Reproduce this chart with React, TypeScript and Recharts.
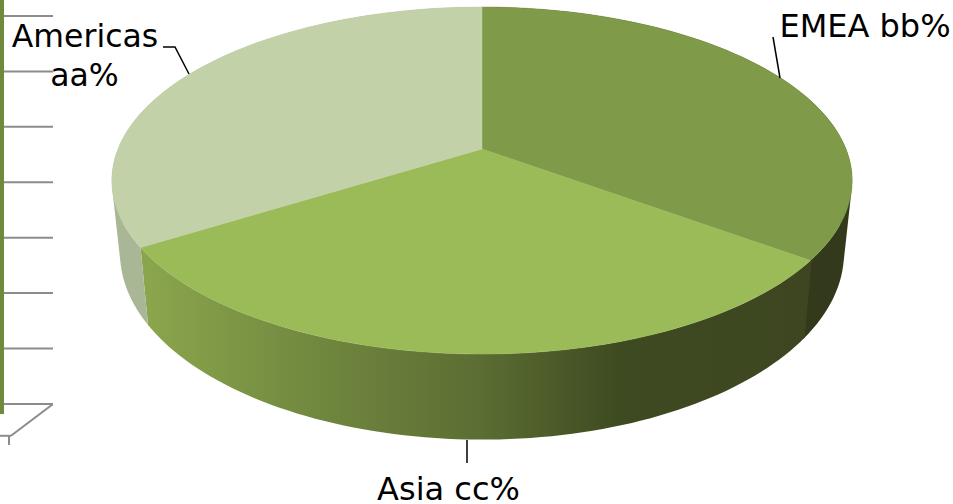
import { ComposedChart, Bar, CartesianGrid, XAxis, YAxis, ReferenceLine, PieChart, Pie, Cell } from 'recharts';

const categories = ['EMEA', 'Asia', 'Americas'];
const shares = [35.1, 31.0, 33.9];
const labelLines = [['EMEA bb%'], ['Asia cc%'], ['Americas', 'aa%']];

// what is left of the neighbouring bar chart at the picture's left edge
const wallLevels = [0, 1, 2, 3, 4, 5, 6, 7];
const wallBar = [{ x: 1, range: [-0.18, 7.288] }];

const topColors = ['#7f9a48', '#9bbb59', '#c3d1a9'];
const sideColors = ['#33391b', 'url(#asiaSide)', '#a9b796'];

const pieData = categories.map((name, i) => ({ name, value: shares[i] }));

const WIDTH = 953;
const HEIGHT = 504;
const RX = 364;
const TILT = 0.461;
const DEPTH = 0.1924;
const PERSPECTIVE = 0.1816;
const BOTTOM_SCALE = 0.978;

const rad = (deg: number) => (deg * Math.PI) / 180;

function topPoint(cx: number, cy: number, r: number, angle: number) {
  const w = 1 + PERSPECTIVE * Math.sin(rad(angle));
  return [cx + (r * Math.cos(rad(angle))) / w, cy - (r * TILT * Math.sin(rad(angle))) / w];
}

function bottomPoint(cx: number, cy: number, r: number, angle: number) {
  const w = 1 + PERSPECTIVE * Math.sin(rad(angle));
  return [
    cx + (BOTTOM_SCALE * r * Math.cos(rad(angle))) / w,
    cy - (r * TILT * Math.sin(rad(angle))) / w + (r * DEPTH) / w,
  ];
}

function topArc(cx: number, cy: number, r: number, from: number, to: number) {
  const steps = 80;
  const pts: string[] = [];
  for (let i = 0; i <= steps; i++) {
    const p = topPoint(cx, cy, r, from + ((to - from) * i) / steps);
    pts.push(`${p[0].toFixed(2)} ${p[1].toFixed(2)}`);
  }
  return pts;
}

// side wall as strips from top rim to bottom rim, so the outline follows the tangent of both rims
function wallPath(cx: number, cy: number, r: number, from: number, to: number) {
  const steps = 80;
  let d = '';
  for (let i = 0; i < steps; i++) {
    const a0 = from + ((to - from) * i) / steps;
    const a1 = from + ((to - from) * (i + 1)) / steps;
    const q = [topPoint(cx, cy, r, a0), topPoint(cx, cy, r, a1), bottomPoint(cx, cy, r, a1), bottomPoint(cx, cy, r, a0)];
    let area = 0;
    q.forEach((p, j) => {
      const n = q[(j + 1) % 4];
      area += p[0] * n[1] - n[0] * p[1];
    });
    if (area < 0) q.reverse();
    d += `M${q.map((p) => `${p[0].toFixed(2)} ${p[1].toFixed(2)}`).join('L')}Z`;
  }
  return d;
}

function Slice3D(props: any) {
  const { cx, cy, outerRadius, startAngle, endAngle, name, payload } = props;
  const idx = categories.indexOf(name ?? payload?.name);
  const rim = topArc(cx, cy, outerRadius, startAngle, endAngle);
  // the Asia wall runs a hair past its edge so no light seam shows against the dark EMEA wall
  const wallStart = idx === 1 ? startAngle + 0.4 : startAngle;
  return (
    <g>
      <defs>
        <linearGradient id="asiaSide" gradientUnits="userSpaceOnUse" x1={150} y1={0} x2={804} y2={0}>
          <stop offset="0" stopColor="#8aa54c" />
          <stop offset="0.25" stopColor="#71883f" />
          <stop offset="0.5" stopColor="#5c6e33" />
          <stop offset="0.72" stopColor="#3e4a21" />
          <stop offset="1" stopColor="#3d4620" />
        </linearGradient>
      </defs>
      <path d={wallPath(cx, cy, outerRadius, wallStart, endAngle)} fill={sideColors[idx]} fillRule="nonzero" />
      <path d={`M${cx} ${cy}L${rim.join('L')}Z`} fill={topColors[idx]} stroke={topColors[idx]} strokeWidth={0.5} />
    </g>
  );
}

const labelFont = { fontFamily: 'DejaVu Sans', fontSize: 32, fill: '#000' };

function SliceLabel(props: any) {
  const { index } = props;
  const lines = labelLines[index];
  if (index === 0) {
    return (
      <g>
        <polyline points="780,78 773,37" fill="none" stroke="#000" strokeWidth={1.5} />
        <text x={865} y={37} textAnchor="middle" {...labelFont}>{lines[0]}</text>
      </g>
    );
  }
  if (index === 1) {
    return (
      <g>
        <polyline points="467,440 467,463" fill="none" stroke="#000" strokeWidth={1.5} />
        <text x={448.5} y={500} textAnchor="middle" {...labelFont}>{lines[0]}</text>
      </g>
    );
  }
  return (
    <g>
      <polyline points="189,74 175,47 163,47" fill="none" stroke="#000" strokeWidth={1.5} />
      <text textAnchor="middle" {...labelFont} fontSize={31.5}>
        <tspan x={85} y={47}>{lines[0]}</tspan>
        <tspan x={84.5} y={86}>{lines[1]}</tspan>
      </text>
    </g>
  );
}

export default function App() {
  return (
    <div style={{ position: 'absolute', left: 0, top: 0, width: WIDTH, height: HEIGHT, background: '#fff', overflow: 'hidden' }}>
      <div style={{ position: 'absolute', left: 0, top: 0 }}>
        <ComposedChart width={53} height={445} data={wallBar} margin={{ top: 0, right: 0, bottom: 0, left: 0 }}>
          <XAxis type="number" dataKey="x" domain={[0, 53]} hide />
          <YAxis type="number" domain={[-0.741, 7.288]} ticks={wallLevels} hide />
          <CartesianGrid vertical={false} horizontalValues={wallLevels} stroke="#8c8c8c" strokeWidth={2} />
          <ReferenceLine segment={[{ x: 53, y: 0 }, { x: 11, y: -0.575 }]} stroke="#8c8c8c" strokeWidth={2} />
          <ReferenceLine segment={[{ x: 11, y: -0.575 }, { x: 0, y: -0.575 }]} stroke="#8c8c8c" strokeWidth={2} />
          <ReferenceLine segment={[{ x: 9, y: -0.575 }, { x: 9, y: -0.741 }]} stroke="#8c8c8c" strokeWidth={2} />
          <Bar dataKey="range" barSize={5} fill="#6f8a3c" isAnimationActive={false} />
        </ComposedChart>
      </div>
      <div style={{ position: 'absolute', left: 0, top: 0 }}>
        <PieChart width={WIDTH} height={HEIGHT} margin={{ top: 0, right: 0, bottom: 0, left: 0 }}>
          <Pie
            data={pieData}
            dataKey="value"
            nameKey="name"
            cx={482}
            cy={149}
            innerRadius={0}
            outerRadius={RX}
            startAngle={90}
            endAngle={-270}
            paddingAngle={0}
            stroke="none"
            shape={Slice3D}
            label={SliceLabel}
            labelLine={false}
            isAnimationActive={false}
          >
            {categories.map((c, i) => (
              <Cell key={c} fill={topColors[i]} />
            ))}
          </Pie>
        </PieChart>
      </div>
    </div>
  );
}
